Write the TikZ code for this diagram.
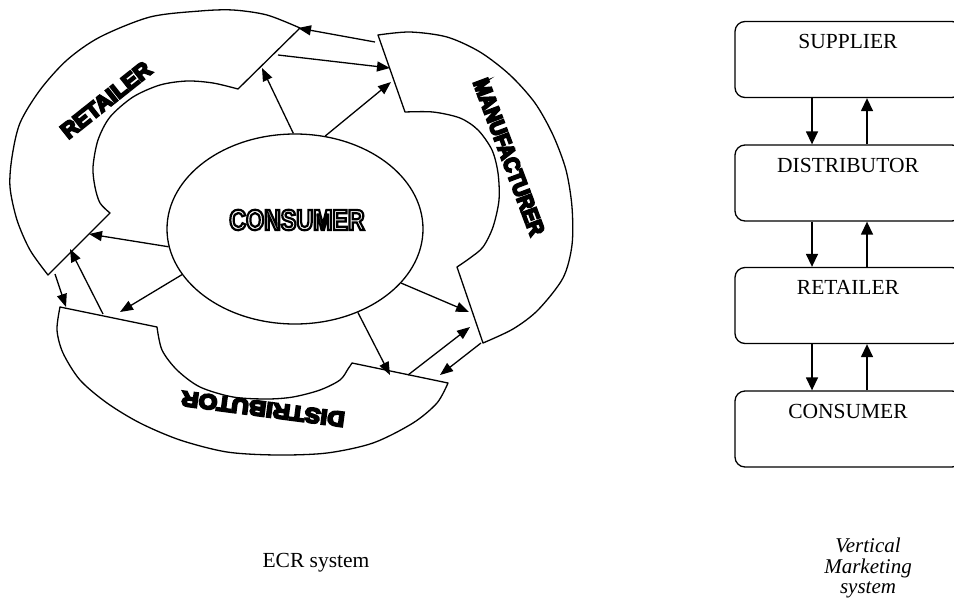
\documentclass[tikz,border=0pt]{standalone}
\usepackage{fontspec}
\setmainfont{Liberation Serif}
\newfontfamily\heavyfont{Liberation Sans}
\newfontfamily\heavynarrow[FakeStretch=0.89]{Liberation Sans}
\newfontfamily\heavywide[FakeStretch=1.15]{Liberation Sans}
\newfontfamily\blockfont[FakeStretch=0.8]{Liberation Sans}
\usetikzlibrary{arrows.meta,shapes.geometric}

% white letters with a black rim: fill white, stroke black (text render mode 2)
\newcommand\hollowtext[1]{%
  \special{pdf:literal direct 2 Tr 2.2 w 0 G 1 g}#1\special{pdf:literal direct 0 Tr 0 g}}
% extra heavy black letters: fill and stroke in black
\newcommand\heavytext[1]{%
  \special{pdf:literal direct 2 Tr 2 w 0 G 0 g}#1\special{pdf:literal direct 0 Tr}}

\begin{document}
\begin{tikzpicture}[x=1pt, y=-1pt,
  bandline/.style={draw, line width=1.3pt, line join=round},
  bandtitle/.style={inner sep=0pt},
  flow/.style={line width=1.3pt, -{Triangle[length=13pt,width=10pt]}},
  vflow/.style={line width=1.4pt, -{Triangle[length=13pt,width=12pt]}},
  vbox/.style={draw, line width=1.3pt, rounded corners=10pt,
    minimum width=227pt, minimum height=76pt, inner sep=0pt},
  vtext/.style={font=\fontsize{21.5}{24}\selectfont, inner sep=0pt},
  caption/.style={font=\fontsize{21.5}{20.5}\selectfont, inner sep=0pt, align=center},
]
\useasboundingbox (0,0) rectangle (954,598);

% ---------- ECR system ----------
% consumer in the middle
\node[draw, ellipse, line width=1.3pt, minimum width=256pt, minimum height=190pt,
  inner sep=0pt] (consumer) at (295,229) {};
\node[inner sep=0pt, font=\blockfont\bfseries\fontsize{29}{29}\selectfont]
  (consumertext) at (297,220) {\hollowtext{CONSUMER}};

% retailer band (upper left)
\draw[bandline] plot[smooth] coordinates {(300,28) (267,15) (233,10) (200,11) (150,17)
    (100,37) (67,60) (40,90) (20,123) (12,157) (10,187) (17,220) (30,250) (48,275)}
  -- plot[smooth] coordinates {(110,213) (100,203) (95,187) (93,167) (98,140) (110,117)
    (133,97) (160,85) (187,81) (213,83) (238,89)}
  -- cycle;

% manufacturer band (right)
\draw[bandline] plot[smooth] coordinates {(378,35) (410,32) (447,37) (480,52) (510,75)
    (535,103) (553,135) (566,170) (572,207) (572,245) (563,278) (538,310) (513,329) (483,343)}
  -- plot[smooth] coordinates {(457,267) (470,258) (483,247) (493,227) (499,200) (498,173)
    (492,150) (478,130) (460,118) (433,112) (405,112)}
  -- cycle;

% distributor band (bottom)
\draw[bandline] plot[smooth] coordinates {(60,307) (57,330) (63,353) (80,380) (107,403)
    (140,423) (180,440) (227,452) (277,455) (327,453) (373,443) (413,423) (437,403) (448,383)}
  -- plot[smooth] coordinates {(352,363) (348,369) (340,380) (320,390) (293,397) (267,399)
    (233,397) (200,387) (177,370) (162,350) (157,327)}
  -- cycle;

% band titles, turned to follow their bands
\node[bandtitle, rotate=38.5, font=\heavyfont\bfseries\fontsize{22}{22}\selectfont]
  (rettitle) at (106,100) {\heavytext{RETAILER}};
\node[bandtitle, rotate=-69.5, font=\heavynarrow\bfseries\fontsize{22}{22}\selectfont]
  (mantitle) at (509,157) {\heavytext{MANUFACTURER}};
\node[bandtitle, rotate=172.5, font=\heavywide\bfseries\fontsize{21}{21}\selectfont]
  (distitle) at (263,409) {\heavytext{DISTRIBUTOR}};

% arrow ends on the bands
\coordinate (ret1) at (298,28);
\coordinate (ret2) at (278,55);
\coordinate (ret3) at (262,68);
\coordinate (ret5) at (89,234);
\coordinate (ret7) at (70,249);
\coordinate (ret8) at (55,274);
\coordinate (man1) at (375,42);
\coordinate (man2) at (390,68);
\coordinate (man4) at (391,82);
\coordinate (man9) at (469,312);
\coordinate (man11) at (470,327);
\coordinate (man12) at (481,343);
\coordinate (dis6) at (120,312);
\coordinate (dis7) at (103,314);
\coordinate (dis8) at (66,307);
\coordinate (dis10) at (390,375);
\coordinate (dis11) at (408,375);
\coordinate (dis12) at (440,375);

\draw[flow] (man1) -- (ret1);
\draw[flow] (ret2) -- (man2);
\draw[flow] (consumer.91) -- (ret3);
\draw[flow] (consumer.72) -- (man4);
\draw[flow] (consumer.188) -- (ret5);
\draw[flow] (consumer.202) -- (dis6);
\draw[flow] (dis7) -- (ret7);
\draw[flow] (ret8) -- (dis8);
\draw[flow] (consumer.333) -- (man9);
\draw[flow] (consumer.307) -- (dis10);
\draw[flow] (dis11) -- (man11);
\draw[flow] (man12) -- (dis12);

\node[caption] (ecrcap) at (316,563) {ECR system};

% ---------- vertical marketing system ----------
\node[vbox] (vsup) at (848.5,59.5) {};
\node[vbox] (vdis) at (848.5,183) {};
\node[vbox] (vret) at (848.5,305.5) {};
\node[vbox] (vcon) at (848.5,429) {};

\node[vtext] (vsuptext) at (848,41) {SUPPLIER};
\node[vtext] (vdistext) at (848,165) {DISTRIBUTOR};
\node[vtext] (vrettext) at (848,287) {RETAILER};
\node[vtext] (vcontext) at (848,411) {CONSUMER};

\draw[vflow] ([xshift=-36.5pt]vsup.south) -- ([xshift=-36.5pt]vdis.north);
\draw[vflow] ([xshift=18.5pt]vdis.north) -- ([xshift=18.5pt]vsup.south);
\draw[vflow] ([xshift=-36.5pt]vdis.south) -- ([xshift=-36.5pt]vret.north);
\draw[vflow] ([xshift=18.5pt]vret.north) -- ([xshift=18.5pt]vdis.south);
\draw[vflow] ([xshift=-36.5pt]vret.south) -- ([xshift=-36.5pt]vcon.north);
\draw[vflow] ([xshift=18.5pt]vcon.north) -- ([xshift=18.5pt]vret.south);

\node[caption, font=\itshape\fontsize{21}{20.5}\selectfont] (vmscap) at (868,568)
  {Vertical\\Marketing\\system};
\end{tikzpicture}
\end{document}
